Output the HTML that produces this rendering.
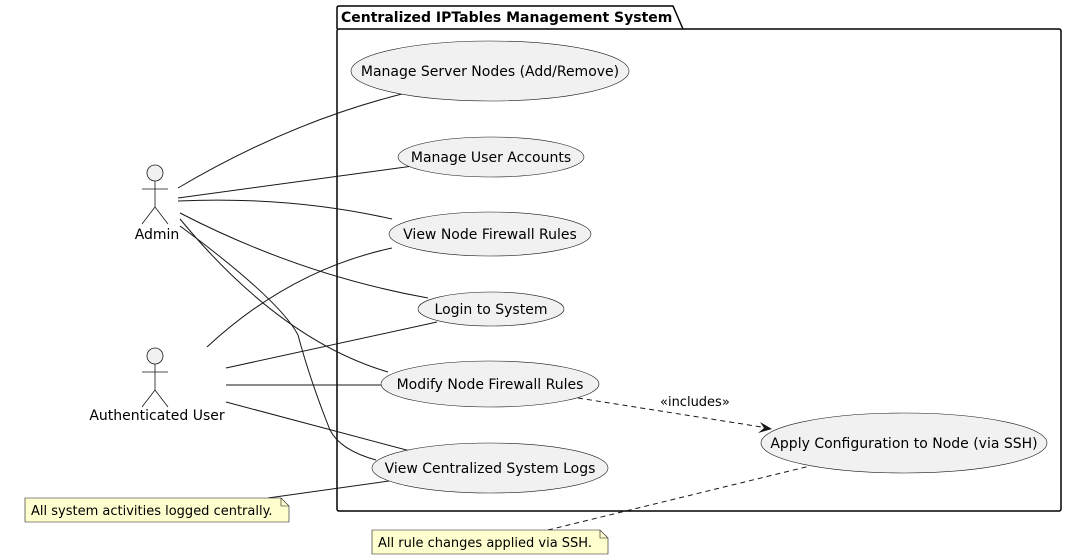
<!DOCTYPE html>
<html><head><meta charset="utf-8"><style>
html,body{margin:0;padding:0;background:#fff;}
svg{display:block;font-family:"DejaVu Sans","Liberation Sans",sans-serif;}
</style></head><body>
<svg width="1089" height="557" viewBox="0 0 1089 557" xmlns="http://www.w3.org/2000/svg">
<g fill="none" stroke="#000" stroke-width="1.5">
<path d="M337 29 L337 8 Q337 6 339 6 L673 6 L683 29"/>
<rect x="337" y="29" width="724" height="482" rx="2"/>
</g>
<text x="341" y="22" font-size="14" font-weight="bold">Centralized IPTables Management System</text>
<g fill="none" stroke="#181818" stroke-width="1">
<path d="M178 188 Q290 122 402 94"/>
<path d="M178 198 L413 166"/>
<path d="M178 201 Q290 196 392 219"/>
<path d="M180 213 Q300 275 428 298"/>
<path d="M180 219 Q280 340 388 372"/>
<path d="M180 226 Q280 300 298 335 Q310 380 330 430 Q340 450 376 460"/>
<path d="M207 347 Q290 270 392 248"/>
<path d="M226 368 L437 322"/>
<path d="M226 385 L381 385"/>
<path d="M226 402 L414 452"/>
<path d="M268 498 L389 481"/>
<path d="M578 398 L768 428" stroke-dasharray="5,4"/>
<path d="M548 530 L810 466" stroke-dasharray="5,4"/>
</g>
<path d="M772 429 L760 422 L764 428 L758 433 Z" fill="#181818"/>
<text x="660" y="406" font-size="13">«includes»</text>
<g fill="#f1f1f1" stroke="#181818" stroke-width="0.6">
<ellipse cx="490" cy="71" rx="139" ry="30"/>
<ellipse cx="491" cy="157" rx="93" ry="20"/>
<ellipse cx="490" cy="234" rx="101" ry="22"/>
<ellipse cx="491" cy="309" rx="73" ry="17"/>
<ellipse cx="490" cy="384" rx="109" ry="23"/>
<ellipse cx="490" cy="468" rx="118" ry="25"/>
<ellipse cx="904" cy="443" rx="143" ry="30"/>
</g>
<g font-size="14" text-anchor="middle" fill="#000">
<text x="490" y="76">Manage Server Nodes (Add/Remove)</text>
<text x="491" y="162">Manage User Accounts</text>
<text x="490" y="239">View Node Firewall Rules</text>
<text x="491" y="314">Login to System</text>
<text x="490" y="389">Modify Node Firewall Rules</text>
<text x="490" y="473">View Centralized System Logs</text>
<text x="904" y="448">Apply Configuration to Node (via SSH)</text>
</g>
<g stroke="#181818" stroke-width="0.8" fill="#f1f1f1">
<circle cx="155" cy="173" r="8"/>
<path d="M155 181 V207 M142 189 H168 M155 207 L142 224 M155 207 L168 224" fill="none"/>
<circle cx="155" cy="356" r="8"/>
<path d="M155 364 V390 M142 372 H168 M155 390 L142 407 M155 390 L168 407" fill="none"/>
</g>
<text x="157" y="239" font-size="14" text-anchor="middle">Admin</text>
<text x="157" y="420" font-size="14" text-anchor="middle">Authenticated User</text>
<g fill="#fefece" stroke="#181818" stroke-width="0.6">
<path d="M25 498 H281 L289 506 V522 H25 Z"/>
<path d="M281 498 V506 H289" fill="none"/>
<path d="M372 530 H600 L608 538 V554 H372 Z"/>
<path d="M600 530 V538 H608" fill="none"/>
</g>
<text x="31" y="515" font-size="13">All system activities logged centrally.</text>
<text x="378" y="547" font-size="13">All rule changes applied via SSH.</text>
</svg>
</body></html>
